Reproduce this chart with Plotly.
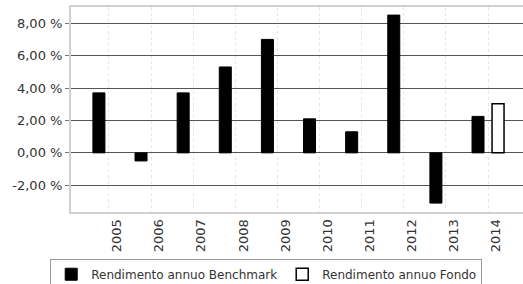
import plotly.graph_objects as go

years = ["2005", "2006", "2007", "2008", "2009", "2010", "2011", "2012", "2013", "2014"]
benchmark = [3.7, -0.5, 3.7, 5.3, 7.0, 2.1, 1.3, 8.5, -3.1, 2.25]
fondo = [None, None, None, None, None, None, None, None, None, 3.03]
y_ticks = [-2, 0, 2, 4, 6, 8]
y_tick_labels = ["-2,00 %", "0,00 %", "2,00 %", "4,00 %", "6,00 %", "8,00 %"]

fig = go.Figure()
fig.add_trace(go.Bar(
    x=years, y=benchmark, name="Rendimento annuo Benchmark",
    marker=dict(color="black", line=dict(color="black", width=1)),
))
fig.add_trace(go.Bar(
    x=years, y=fondo, name="Rendimento annuo Fondo",
    marker=dict(color="white", line=dict(color="black", width=1.5)),
))

fig.update_layout(
    width=523, height=284,
    margin=dict(l=71, r=0, t=7, b=72, autoexpand=False),
    paper_bgcolor="white", plot_bgcolor="white",
    barmode="group", bargap=0.05, bargroupgap=0.4,
    font=dict(family="DejaVu Sans", size=13, color="#333"),
    showlegend=True,
    legend=dict(
        orientation="h", x=-0.046, xanchor="left", y=-0.228, yanchor="top",
        bordercolor="#999", borderwidth=1, font=dict(size=12),
        itemwidth=30, tracegroupgap=0,
    ),
)
fig.update_yaxes(
    range=[-3.65, 9.0], tickvals=y_ticks, ticktext=y_tick_labels,
    showgrid=True, gridcolor="#555", gridwidth=1.3,
    zeroline=True, zerolinecolor="#555", zerolinewidth=1.3,
    showline=True, linecolor="#d0d0d0", linewidth=2, mirror=True,
    ticks="outside", ticklen=4, tickcolor="#777", automargin=False,
)
fig.update_xaxes(
    range=[-0.9, 9.83], tickangle=-90,
    showgrid=True, gridcolor="#e6e6e6", griddash="dot", gridwidth=1,
    showline=True, linecolor="#d0d0d0", linewidth=2, mirror=True,
    ticks="", ticklabelshift=8, automargin=False,
)

fig.write_html(
    "out.html",
    config={"displayModeBar": False},
    post_script="document.body.style.margin='0';document.body.style.overflow='hidden';",
)
